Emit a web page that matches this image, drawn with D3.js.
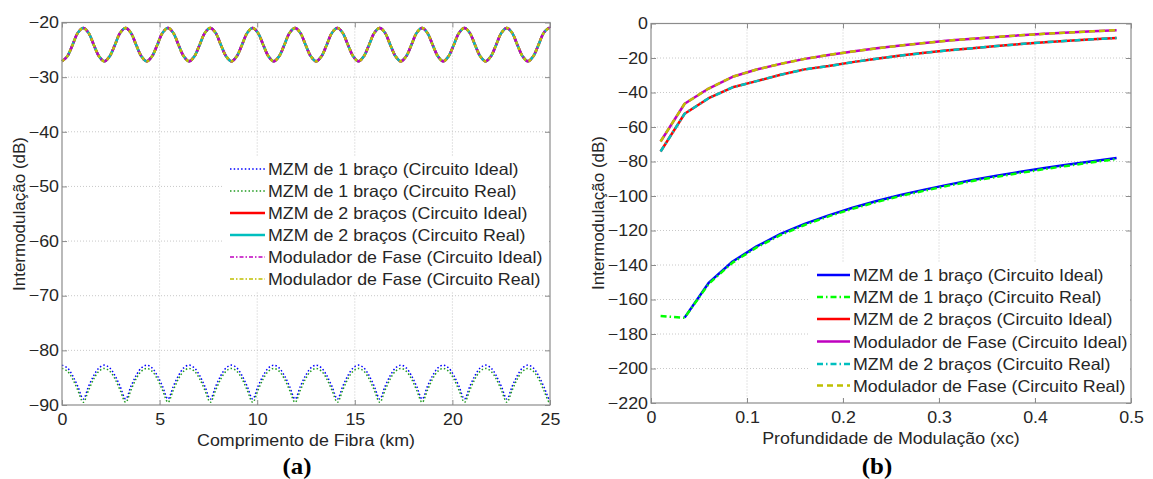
<!DOCTYPE html>
<html><head><meta charset="utf-8">
<script src="https://cdn.jsdelivr.net/npm/d3@7"></script>
<style>
body{margin:0;background:#fff}
text{font-family:"Liberation Sans",Arial,sans-serif;fill:#262626}
</style>
</head><body>
<svg id="c" width="1153" height="479"></svg>
<script>
// ---------- Panel (a): Comprimento de Fibra ----------
const fiberKm = [0,0.27,0.54,0.81,1.09,1.36,1.63,1.90,2.17,2.44,2.71,2.98,3.26,3.53,3.80,4.07,4.34,4.61,4.88,5.15,5.43,5.70,5.97,6.24,6.51,6.78,7.05,7.32,7.60,7.87,8.14,8.41,8.68,8.95,9.22,9.49,9.77,10.04,10.31,10.58,10.85,11.12,11.39,11.66,11.94,12.21,12.48,12.75,13.02,13.29,13.56,13.83,14.11,14.38,14.65,14.92,15.19,15.46,15.73,16.00,16.28,16.55,16.82,17.09,17.36,17.63,17.90,18.17,18.45,18.72,18.99,19.26,19.53,19.80,20.07,20.34,20.62,20.89,21.16,21.43,21.70,21.97,22.24,22.51,22.79,23.06,23.33,23.60,23.87,24.14,24.41,24.68,24.96,25.00];
// MZM 2 braços / Modulador de Fase (ideal & real overlap)
const topWaveA = [
-27.1,-26.2,-24.1,-21.9,-21.0,-21.9,-24.1,-26.2,
-27.1,-26.2,-24.1,-21.9,-21.0,-21.9,-24.1,-26.2,
-27.1,-26.2,-24.1,-21.9,-21.0,-21.9,-24.1,-26.2,
-27.1,-26.2,-24.1,-21.9,-21.0,-21.9,-24.1,-26.2,
-27.1,-26.2,-24.1,-21.9,-21.0,-21.9,-24.1,-26.2,
-27.1,-26.2,-24.1,-21.9,-21.0,-21.9,-24.1,-26.2,
-27.1,-26.2,-24.1,-21.9,-21.0,-21.9,-24.1,-26.2,
-27.1,-26.2,-24.1,-21.9,-21.0,-21.9,-24.1,-26.2,
-27.1,-26.2,-24.1,-21.9,-21.0,-21.9,-24.1,-26.2,
-27.1,-26.2,-24.1,-21.9,-21.0,-21.9,-24.1,-26.2,
-27.1,-26.2,-24.1,-21.9,-21.0,-21.9,-24.1,-26.2,
-27.1,-26.2,-24.1,-21.9,-21.0,-21.05];
const mzm1IdealA = [
-82.7,-83.2,-84.6,-86.6,-88.9,-86.6,-84.6,-83.2,
-82.7,-83.2,-84.6,-86.6,-88.9,-86.6,-84.6,-83.2,
-82.7,-83.2,-84.6,-86.6,-88.9,-86.6,-84.6,-83.2,
-82.7,-83.2,-84.6,-86.6,-88.9,-86.6,-84.6,-83.2,
-82.7,-83.2,-84.6,-86.6,-88.9,-86.6,-84.6,-83.2,
-82.7,-83.2,-84.6,-86.6,-88.9,-86.6,-84.6,-83.2,
-82.7,-83.2,-84.6,-86.6,-88.9,-86.6,-84.6,-83.2,
-82.7,-83.2,-84.6,-86.6,-88.9,-86.6,-84.6,-83.2,
-82.7,-83.2,-84.6,-86.6,-88.9,-86.6,-84.6,-83.2,
-82.7,-83.2,-84.6,-86.6,-88.9,-86.6,-84.6,-83.2,
-82.7,-83.2,-84.6,-86.6,-88.9,-86.6,-84.6,-83.2,
-82.7,-83.2,-84.6,-86.6,-88.9,-88.8];
const mzm1RealA = [
-83.3,-83.8,-85.2,-87.3,-89.5,-87.3,-85.2,-83.8,
-83.3,-83.8,-85.2,-87.3,-89.5,-87.3,-85.2,-83.8,
-83.3,-83.8,-85.2,-87.3,-89.5,-87.3,-85.2,-83.8,
-83.3,-83.8,-85.2,-87.3,-89.5,-87.3,-85.2,-83.8,
-83.3,-83.8,-85.2,-87.3,-89.5,-87.3,-85.2,-83.8,
-83.3,-83.8,-85.2,-87.3,-89.5,-87.3,-85.2,-83.8,
-83.3,-83.8,-85.2,-87.3,-89.5,-87.3,-85.2,-83.8,
-83.3,-83.8,-85.2,-87.3,-89.5,-87.3,-85.2,-83.8,
-83.3,-83.8,-85.2,-87.3,-89.5,-87.3,-85.2,-83.8,
-83.3,-83.8,-85.2,-87.3,-89.5,-87.3,-85.2,-83.8,
-83.3,-83.8,-85.2,-87.3,-89.5,-87.3,-85.2,-83.8,
-83.3,-83.8,-85.2,-87.3,-89.5,-89.4];
const xTicksA = [0,5,10,15,20,25];
const yTicksA = [-20,-30,-40,-50,-60,-70,-80,-90];
const legendA = ["MZM de 1 braço (Circuito Ideal)","MZM de 1 braço (Circuito Real)","MZM de 2 braços (Circuito Ideal)","MZM de 2 braços (Circuito Real)","Modulador de Fase (Circuito Ideal)","Modulador de Fase (Circuito Real)"];

// ---------- Panel (b): Profundidade de Modulação ----------
const modDepth = [0.01,0.035,0.06,0.085,0.11,0.135,0.16,0.185,0.21,0.235,0.26,0.285,0.31,0.335,0.36,0.385,0.41,0.435,0.46,0.485];
const mzm1IdealB = [null,-170.5,-150.4,-138.0,-129.2,-122.0,-116.2,-111.2,-106.8,-102.9,-99.4,-96.3,-93.4,-90.7,-88.3,-86.0,-83.8,-81.8,-79.8,-78.0];
const mzm1RealB  = [-169.6,-170.6,-151.0,-138.6,-129.8,-122.6,-116.8,-111.8,-107.4,-103.5,-100.0,-96.9,-94.0,-91.3,-88.9,-86.6,-84.4,-82.4,-80.4,-78.6];
const mzm2IdealB = [-74.2,-52.3,-43.3,-37.0,-33.4,-29.7,-26.6,-24.7,-22.4,-20.4,-18.6,-17.0,-15.55,-14.3,-13.1,-11.9,-10.9,-10.0,-9.2,-8.4];
const mzm2RealB  = [-74.2,-52.3,-43.3,-37.0,-33.4,-29.7,-26.6,-24.7,-22.4,-20.4,-18.6,-17.0,-15.55,-14.3,-13.1,-11.9,-10.9,-10.0,-9.2,-8.4];
const phaseIdealB = [-68.4,-46.5,-37.7,-30.9,-26.7,-23.4,-20.5,-18.2,-16.2,-14.4,-12.8,-11.3,-9.9,-8.8,-7.8,-6.8,-6.0,-5.2,-4.5,-3.85];
const phaseRealB  = [-68.4,-46.5,-37.7,-30.9,-26.7,-23.4,-20.5,-18.2,-16.2,-14.4,-12.8,-11.3,-9.9,-8.8,-7.8,-6.8,-6.0,-5.2,-4.5,-3.85];
const xTicksB = [0,0.1,0.2,0.3,0.4,0.5];
const yTicksB = [0,-20,-40,-60,-80,-100,-120,-140,-160,-180,-200,-220];
const legendB = ["MZM de 1 braço (Circuito Ideal)","MZM de 1 braço (Circuito Real)","MZM de 2 braços (Circuito Ideal)","Modulador de Fase (Circuito Ideal)","MZM de 2 braços (Circuito Real)","Modulador de Fase (Circuito Real)"];

const svg = d3.select("#c");
const FS = 16.5;
const STRETCH = 1.08;
const C = {blue:"#0000ff", green:"#00ff00", dgreen:"#1f9a1f", red:"#ff0000", cyan:"#00bfbf", mag:"#bf00bf", yel:"#bfbf00"};
const DOT="1.5,2.2", DASHDOT="6,3,1.5,3", DASH="6,4";

function panel(o){
  const g = svg.append("g");
  const x = d3.scaleLinear().domain(o.xd).range([o.L,o.R]);
  const y = d3.scaleLinear().domain(o.yd).range([o.B,o.T]);
  g.selectAll(".gx").data(o.xt.slice(1,-1)).join("line")
    .attr("x1",d=>x(d)).attr("x2",d=>x(d)).attr("y1",o.T).attr("y2",o.B)
    .attr("stroke","#c8c8c8").attr("stroke-width",1).attr("stroke-dasharray","1,2");
  g.selectAll(".gy").data(o.yt.slice(1,-1)).join("line")
    .attr("y1",d=>y(d)).attr("y2",d=>y(d)).attr("x1",o.L).attr("x2",o.R)
    .attr("stroke","#c8c8c8").attr("stroke-width",1).attr("stroke-dasharray","1,2");
  const ax = (gen, tr, labels) => {
    const a = g.append("g").attr("transform",tr).call(gen);
    a.select(".domain").remove();
    a.selectAll(".tick line").attr("stroke","#8c8c8c");
    a.selectAll("text").attr("font-size",FS).attr("fill","#262626").attr("font-family",'"Liberation Sans",Arial,sans-serif').classed("st",true);
    if(!labels) a.selectAll("text").remove();
    return a;
  };
  ax(d3.axisBottom(x).tickValues(o.xt).tickSizeInner(-5).tickSizeOuter(0).tickPadding(8).tickFormat(o.xf),`translate(0,${o.B})`,true);
  ax(d3.axisTop(x).tickValues(o.xt).tickSizeInner(-5).tickSizeOuter(0),`translate(0,${o.T})`,false);
  ax(d3.axisLeft(y).tickValues(o.yt).tickSizeInner(-5).tickSizeOuter(0).tickPadding(3),`translate(${o.L},0)`,true);
  ax(d3.axisRight(y).tickValues(o.yt).tickSizeInner(-5).tickSizeOuter(0),`translate(${o.R},0)`,false);
  return {g,x,y};
}

function drawLine(p, xs, ys, color, w, dash, curve){
  const pts = xs.map((d,i)=>[d,ys[i]]);
  p.g.append("path").datum(pts)
    .attr("d", d3.line().defined(d=>d[1]!=null).x(d=>p.x(d[0])).y(d=>p.y(d[1])).curve(curve||d3.curveLinear))
    .attr("fill","none").attr("stroke",color).attr("stroke-width",w)
    .attr("stroke-dasharray",dash||null).attr("stroke-linejoin","round");
}

function frame(o){
  svg.append("rect").attr("x",o.L).attr("y",o.T).attr("width",o.R-o.L).attr("height",o.B-o.T)
    .attr("fill","none").attr("stroke","#8c8c8c").attr("stroke-width",1.2);
}

function legend(box, items, lx0, lx1, tx, rows){
  svg.append("rect").attr("x",box[0]).attr("y",box[1]).attr("width",box[2]).attr("height",box[3]).attr("fill","#fff");
  const lg = svg.append("g");
  items.forEach((it,i)=>{
    lg.append("line").attr("x1",lx0).attr("x2",lx1).attr("y1",rows[i]).attr("y2",rows[i])
      .attr("stroke",it.c).attr("stroke-width",it.w).attr("stroke-dasharray",it.d||null);
    lg.append("text").attr("class","st").attr("x",tx).attr("y",rows[i]+6).attr("font-size",FS).text(it.t);
  });
}

// ----- Panel A -----
const oA = {L:62,R:550,T:22.5,B:405,xd:[0,25],yd:[-90,-20],xt:xTicksA,yt:yTicksA,xf:d3.format("d")};
const pA = panel(oA);
const cv = d3.curveCatmullRom.alpha(0.5);
drawLine(pA, fiberKm, mzm1IdealA, C.blue, 1.5, DOT, cv);
drawLine(pA, fiberKm, mzm1RealA, C.dgreen, 1.5, DOT, cv);
drawLine(pA, fiberKm, topWaveA, C.red, 2.5, null, cv);
drawLine(pA, fiberKm, topWaveA, C.cyan, 2.5, null, cv);
drawLine(pA, fiberKm, topWaveA, C.mag, 2.5, DASHDOT, cv);
drawLine(pA, fiberKm, topWaveA, C.yel, 2.5, "3,3", cv);
frame(oA);
legend([224,157,325,134],[
  {t:legendA[0],c:C.blue,w:1.5,d:DOT},
  {t:legendA[1],c:C.dgreen,w:1.5,d:DOT},
  {t:legendA[2],c:C.red,w:2.5},
  {t:legendA[3],c:C.cyan,w:2.5},
  {t:legendA[4],c:C.mag,w:1.5,d:"4,2,1.5,2"},
  {t:legendA[5],c:C.yel,w:1.5,d:"4,2,1.5,2"}
],230,265,268,[169,191,213,235,257,279]);
svg.append("text").attr("class","st").attr("x",(oA.L+oA.R)/2).attr("y",446).attr("text-anchor","middle").attr("font-size",FS).text("Comprimento de Fibra (km)");
svg.append("text").attr("transform","translate(25,214) rotate(-90)").attr("text-anchor","middle").attr("font-size",FS+0.5).text("Intermodulação (dB)");
svg.append("text").attr("class","st").attr("x",297).attr("y",474).attr("text-anchor","middle").attr("font-size",23).attr("font-weight","bold").style("font-family",'"Liberation Serif","Times New Roman",serif').style("fill","#000").text("(a)");

// ----- Panel B -----
const oB = {L:651,R:1131,T:23.5,B:403,xd:[0,0.5],yd:[-220,0],xt:xTicksB,yt:yTicksB,xf:d3.format("")};
const pB = panel(oB);
drawLine(pB, modDepth, mzm1IdealB, C.blue, 2.5);
drawLine(pB, modDepth, mzm1RealB, C.green, 2.5, DASHDOT);
drawLine(pB, modDepth, mzm2IdealB, C.red, 2.5);
drawLine(pB, modDepth, phaseIdealB, C.mag, 2.5);
drawLine(pB, modDepth, mzm2RealB, C.cyan, 2.5, DASHDOT);
drawLine(pB, modDepth, phaseRealB, C.yel, 2.5, DASH);
frame(oB);
legend([809,262,321,135],[
  {t:legendB[0],c:C.blue,w:2.5},
  {t:legendB[1],c:C.green,w:2.5,d:DASHDOT},
  {t:legendB[2],c:C.red,w:2.5},
  {t:legendB[3],c:C.mag,w:2.5},
  {t:legendB[4],c:C.cyan,w:2.5,d:DASHDOT},
  {t:legendB[5],c:C.yel,w:2.5,d:DASH}
],817,850,853,[275,297,319,341.5,364,385.5]);
svg.append("text").attr("class","st").attr("x",(oB.L+oB.R)/2).attr("y",444).attr("text-anchor","middle").attr("font-size",FS).text("Profundidade de Modulação (xc)");
svg.append("text").attr("transform","translate(604,213) rotate(-90)").attr("text-anchor","middle").attr("font-size",FS+0.5).text("Intermodulação (dB)");
svg.append("text").attr("class","st").attr("x",877).attr("y",474).attr("text-anchor","middle").attr("font-size",23).attr("font-weight","bold").style("font-family",'"Liberation Serif","Times New Roman",serif').style("fill","#000").text("(b)");

// horizontal glyph stretch to match the reference's wider lettering
svg.selectAll("text.st").each(function(){
  const L = this.getComputedTextLength();
  if (L > 0) { this.setAttribute("textLength", (L*STRETCH).toFixed(2)); this.setAttribute("lengthAdjust","spacingAndGlyphs"); }
});
</script>
</body></html>
